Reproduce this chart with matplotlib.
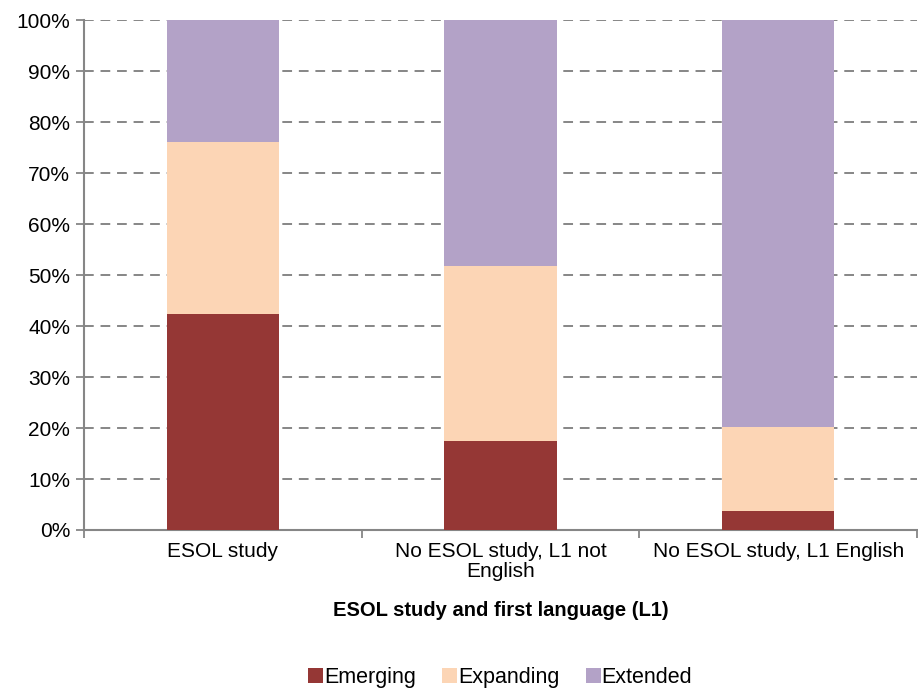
import matplotlib
matplotlib.use("Agg")
import matplotlib.pyplot as plt
from matplotlib.ticker import FixedLocator, PercentFormatter

categories = ["ESOL study", "No ESOL study, L1 not\nEnglish", "No ESOL study, L1 English"]
emerging = [42.4, 17.4, 3.7]
expanding = [33.7, 34.4, 16.4]
extended = [23.9, 48.2, 79.9]
series_names = ["Emerging", "Expanding", "Extended"]
colors = ["#953735", "#FCD5B5", "#B3A2C7"]

plt.rcParams['font.family'] = ['Liberation Sans', 'DejaVu Sans']

fig = plt.figure(figsize=(9.18, 6.91), dpi=100)
ax = fig.add_axes([0.0915, 0.233, 0.9075, 0.738])

x = list(range(len(categories)))
bottom2 = [a + b for a, b in zip(emerging, expanding)]
ax.bar(x, emerging, width=0.405, color=colors[0], label=series_names[0], zorder=3)
ax.bar(x, expanding, width=0.405, bottom=emerging, color=colors[1], label=series_names[1], zorder=3)
ax.bar(x, extended, width=0.405, bottom=bottom2, color=colors[2], label=series_names[2], zorder=3)

ax.set_xlim(-0.5, 2.5)
ax.set_ylim(0, 100)
ax.set_yticks(range(0, 101, 10))
ax.yaxis.set_major_formatter(PercentFormatter(decimals=0))
ax.set_xticks(x)
ax.set_xticklabels(categories, fontsize=15, linespacing=1.05)
ax.xaxis.set_minor_locator(FixedLocator([-0.5, 0.5, 1.5, 2.5]))
ax.tick_params(axis='x', which='major', length=0, pad=9)
ax.tick_params(axis='x', which='minor', length=6, width=1.3, color='#868686')
ax.tick_params(axis='y', length=6, width=1.3, color='#868686', labelsize=15, pad=4)

ax.yaxis.grid(True, linestyle=(0, (5, 3.5)), color='#868686', linewidth=1.4, zorder=0)
ax.set_axisbelow(True)
for s in ['top', 'right']:
    ax.spines[s].set_visible(False)
for s in ['left', 'bottom']:
    ax.spines[s].set_color('#868686')
    ax.spines[s].set_linewidth(1.5)

ax.set_xlabel("ESOL study and first language (L1)", fontsize=14.5, fontweight='bold', labelpad=14)

leg = fig.legend(loc='center', bbox_to_anchor=(0.545, 0.02), ncol=3, frameon=False,
                 fontsize=15.5, handlelength=0.7, handleheight=0.7, handletextpad=0.05,
                 columnspacing=1.2)

fig.savefig("out.png", dpi=100)
